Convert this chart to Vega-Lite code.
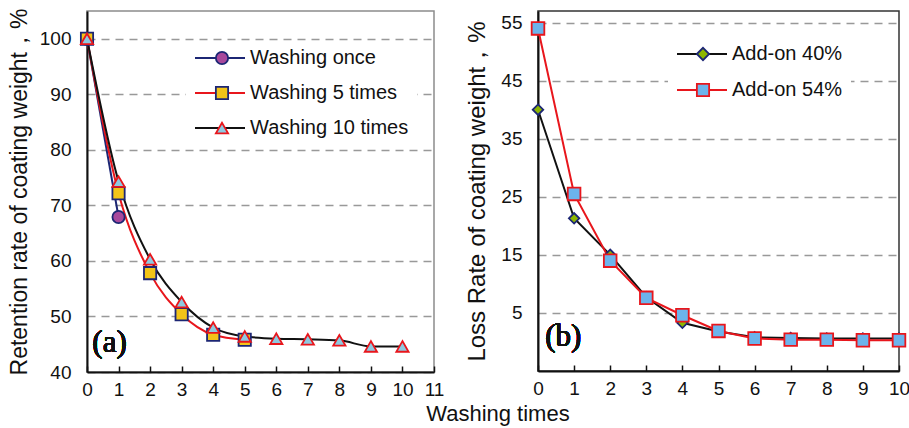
{
  "$schema": "https://vega.github.io/schema/vega-lite/v6.json",
  "background": "white",
  "padding": {"left": 7, "top": 7, "right": 5, "bottom": 5},
  "spacing": 20,
  "title": {"text": "Washing times", "orient": "bottom", "anchor": "middle", "fontSize": 22, "font": "Liberation Sans", "fontWeight": "normal", "color": "#111", "dx": 39, "offset": 4},
  "config": {
    "font": "Liberation Sans",
    "axis": {"labelFont": "Liberation Sans", "labelFontSize": 19, "labelColor": "#111", "titleFont": "Liberation Sans", "titleFontSize": 23, "titleFontWeight": "normal", "titleColor": "#111", "domainColor": "#111", "domainWidth": 2, "tickColor": "#111"},
    "axisX": {"grid": false, "tickSize": -6, "tickWidth": 1.5, "labelPadding": 14, "labelFlush": false, "labelOverlap": false},
    "axisY": {"grid": true, "gridDash": [8, 6], "gridColor": "#999999", "gridWidth": 1.3, "ticks": false, "labelPadding": 16, "labelOverlap": false},
    "legend": {"labelFont": "Liberation Sans", "labelFontSize": 20, "labelColor": "#111"}
  },
  "resolve": {
    "scale": {"color": "independent", "fill": "independent", "shape": "independent", "stroke": "independent"},
    "legend": {"color": "independent", "fill": "independent", "shape": "independent", "stroke": "independent"}
  },
  "hconcat": [
    {
      "width": 347,
      "height": 361,
      "view": {"stroke": "#8c8c8c", "strokeWidth": 1.5},
      "data": {"values": [
        {"x": 0, "y": 100, "series": "Washing once"},
        {"x": 1, "y": 67.9, "series": "Washing once"},
        {"x": 0, "y": 100, "series": "Washing 5 times"},
        {"x": 1, "y": 72.2, "series": "Washing 5 times"},
        {"x": 2, "y": 57.8, "series": "Washing 5 times"},
        {"x": 3, "y": 50.4, "series": "Washing 5 times"},
        {"x": 4, "y": 46.7, "series": "Washing 5 times"},
        {"x": 5, "y": 45.8, "series": "Washing 5 times"},
        {"x": 0, "y": 100, "series": "Washing 10 times"},
        {"x": 1, "y": 74.3, "series": "Washing 10 times"},
        {"x": 2, "y": 60.3, "series": "Washing 10 times"},
        {"x": 3, "y": 52.6, "series": "Washing 10 times"},
        {"x": 4, "y": 48.0, "series": "Washing 10 times"},
        {"x": 5, "y": 46.4, "series": "Washing 10 times"},
        {"x": 6, "y": 46.0, "series": "Washing 10 times"},
        {"x": 7, "y": 45.9, "series": "Washing 10 times"},
        {"x": 8, "y": 45.7, "series": "Washing 10 times"},
        {"x": 9, "y": 44.6, "series": "Washing 10 times"},
        {"x": 10, "y": 44.6, "series": "Washing 10 times"}
      ]},
      "layer": [
        {
          "mark": {"type": "line", "interpolate": "monotone", "strokeWidth": 2},
          "encoding": {
            "x": {"field": "x", "type": "quantitative", "scale": {"domain": [0, 11], "nice": false}, "axis": {"title": null, "values": [0,1,2,3,4,5,6,7,8,9,10,11], "labelOverlap": false, "tickCount": 12}},
            "y": {"field": "y", "type": "quantitative", "scale": {"domain": [40, 105], "nice": false, "zero": false}, "axis": {"title": "Retention rate of coating weight，%", "values": [40,50,60,70,80,90,100], "titlePadding": 8}},
            "color": {"field": "series", "type": "nominal",
              "scale": {"domain": ["Washing once", "Washing 5 times", "Washing 10 times"], "range": ["#1c2674", "#e8161c", "#111111"]},
              "legend": {"orient": "none", "legendX": 99, "legendY": 30, "title": null, "symbolType": "stroke", "symbolSize": 2500, "symbolStrokeWidth": 2, "clipHeight": 18, "rowPadding": 15, "labelFontSize": 20, "labelOffset": 4, "fillColor": "white", "padding": 8}}
          }
        },
        {
          "mark": {"type": "point", "filled": true, "size": 150, "strokeWidth": 1.8, "opacity": 1},
          "encoding": {
            "x": {"field": "x", "type": "quantitative"},
            "y": {"field": "y", "type": "quantitative"},
            "fill": {"field": "series", "type": "nominal", "sort": "descending", "scale": {"range": ["#a8489c", "#f2c418", "#8ec9e0"]},
              "legend": {"orient": "none", "legendX": 125, "legendY": 38, "title": null, "symbolSize": 150, "symbolStrokeWidth": 1.8, "clipHeight": 18, "rowPadding": 15, "labelExpr": "''", "labelOpacity": 0, "padding": 0}},
            "shape": {"field": "series", "type": "nominal", "sort": "descending", "scale": {"range": ["circle", "square", "triangle-up"]},
              "legend": {"orient": "none", "legendX": 125, "legendY": 38, "title": null, "symbolSize": 150, "symbolStrokeWidth": 1.8, "clipHeight": 18, "rowPadding": 15, "labelExpr": "''", "labelOpacity": 0, "padding": 0}},
            "stroke": {"field": "series", "type": "nominal", "sort": "descending", "scale": {"range": ["#1c2674", "#1c2674", "#e8161c"]},
              "legend": {"orient": "none", "legendX": 125, "legendY": 38, "title": null, "symbolSize": 150, "symbolStrokeWidth": 1.8, "clipHeight": 18, "rowPadding": 15, "labelExpr": "''", "labelOpacity": 0, "padding": 0}}
          }
        },
        {
          "mark": {"type": "text", "text": "(a)", "font": "Liberation Serif", "fontSize": 31, "fontWeight": "normal", "align": "left", "baseline": "middle", "color": "#111"},
          "encoding": {"x": {"datum": 0.17}, "y": {"datum": 45.2}}
        }
      ]
    },
    {
      "width": 361,
      "height": 360,
      "view": {"stroke": "#333333", "strokeWidth": 1.5},
      "data": {"values": [
        {"x": 0, "y": 40.0, "series": "Add-on 40%"},
        {"x": 1, "y": 21.3, "series": "Add-on 40%"},
        {"x": 2, "y": 15.0, "series": "Add-on 40%"},
        {"x": 3, "y": 7.7, "series": "Add-on 40%"},
        {"x": 4, "y": 3.3, "series": "Add-on 40%"},
        {"x": 5, "y": 1.8, "series": "Add-on 40%"},
        {"x": 6, "y": 0.8, "series": "Add-on 40%"},
        {"x": 7, "y": 0.7, "series": "Add-on 40%"},
        {"x": 8, "y": 0.6, "series": "Add-on 40%"},
        {"x": 9, "y": 0.6, "series": "Add-on 40%"},
        {"x": 10, "y": 0.6, "series": "Add-on 40%"},
        {"x": 0, "y": 54.0, "series": "Add-on 54%"},
        {"x": 1, "y": 25.5, "series": "Add-on 54%"},
        {"x": 2, "y": 14.0, "series": "Add-on 54%"},
        {"x": 3, "y": 7.6, "series": "Add-on 54%"},
        {"x": 4, "y": 4.6, "series": "Add-on 54%"},
        {"x": 5, "y": 1.9, "series": "Add-on 54%"},
        {"x": 6, "y": 0.6, "series": "Add-on 54%"},
        {"x": 7, "y": 0.4, "series": "Add-on 54%"},
        {"x": 8, "y": 0.4, "series": "Add-on 54%"},
        {"x": 9, "y": 0.3, "series": "Add-on 54%"},
        {"x": 10, "y": 0.3, "series": "Add-on 54%"}
      ]},
      "layer": [
        {
          "mark": {"type": "line", "strokeWidth": 2},
          "encoding": {
            "x": {"field": "x", "type": "quantitative", "scale": {"domain": [0, 10], "nice": false}, "axis": {"title": null, "values": [0,1,2,3,4,5,6,7,8,9,10], "labelOverlap": false, "tickCount": 11}},
            "y": {"field": "y", "type": "quantitative", "scale": {"domain": [-5, 57], "nice": false, "zero": false}, "axis": {"title": "Loss Rate of coating weight，%", "values": [5,15,25,35,45,55], "titlePadding": 11, "titleFontSize": 24}},
            "color": {"field": "series", "type": "nominal",
              "scale": {"domain": ["Add-on 40%", "Add-on 54%"], "range": ["#111111", "#e8161c"]},
              "legend": {"orient": "none", "legendX": 130, "legendY": 26, "title": null, "symbolType": "stroke", "symbolSize": 2500, "symbolStrokeWidth": 2, "clipHeight": 18, "rowPadding": 16, "labelFontSize": 20, "labelOffset": 4, "fillColor": "white", "padding": 8}}
          }
        },
        {
          "mark": {"type": "point", "filled": true, "strokeWidth": 1.8, "opacity": 1},
          "encoding": {
            "x": {"field": "x", "type": "quantitative"},
            "y": {"field": "y", "type": "quantitative"},
            "size": {"field": "series", "type": "nominal", "scale": {"range": [110, 160]}, "legend": null},
            "fill": {"field": "series", "type": "nominal", "scale": {"range": ["#8db600", "#6cb4ec"]},
              "legend": {"orient": "none", "legendX": 155, "legendY": 34, "title": null, "symbolSize": 150, "symbolStrokeWidth": 1.8, "clipHeight": 18, "rowPadding": 16, "labelExpr": "''", "labelOpacity": 0, "padding": 0}},
            "shape": {"field": "series", "type": "nominal", "scale": {"range": ["diamond", "square"]},
              "legend": {"orient": "none", "legendX": 155, "legendY": 34, "title": null, "symbolSize": 150, "symbolStrokeWidth": 1.8, "clipHeight": 18, "rowPadding": 16, "labelExpr": "''", "labelOpacity": 0, "padding": 0}},
            "stroke": {"field": "series", "type": "nominal", "scale": {"range": ["#1c2674", "#e8161c"]},
              "legend": {"orient": "none", "legendX": 155, "legendY": 34, "title": null, "symbolSize": 150, "symbolStrokeWidth": 1.8, "clipHeight": 18, "rowPadding": 16, "labelExpr": "''", "labelOpacity": 0, "padding": 0}}
          }
        },
        {
          "mark": {"type": "text", "text": "(b)", "font": "Liberation Serif", "fontSize": 31, "fontWeight": "normal", "align": "left", "baseline": "middle", "color": "#111"},
          "encoding": {"x": {"datum": 0.2}, "y": {"datum": 0.8}}
        }
      ]
    }
  ]
}
